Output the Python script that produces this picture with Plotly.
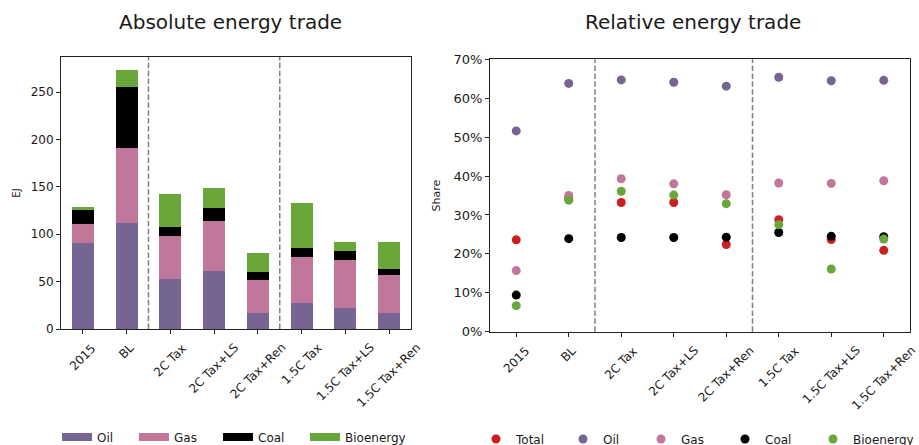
import plotly.graph_objects as go

# Scenarios shown on both panels
scenarios = ["2015", "BL", "2C Tax", "2C Tax+LS", "2C Tax+Ren",
             "1.5C Tax", "1.5C Tax+LS", "1.5C Tax+Ren"]
group_breaks = [1.5, 4.5]

# Absolute traded energy by carrier (EJ)
oil_ej = [90.7, 111.8, 53.1, 61.5, 17.2, 27.8, 22.2, 16.5]
gas_ej = [20.1, 79.5, 44.6, 52.8, 34.5, 48.1, 50.2, 40.8]
coal_ej = [15.4, 63.6, 10.2, 13.7, 8.4, 9.5, 9.9, 6.3]
bio_ej = [2.1, 18.0, 34.2, 20.4, 20.4, 47.2, 9.5, 28.2]

# Traded share of each carrier
total_share = [0.236, 0.343, 0.332, 0.332, 0.224, 0.288, 0.237, 0.209]
oil_share = [0.516, 0.638, 0.647, 0.641, 0.631, 0.654, 0.645, 0.646]
gas_share = [0.157, 0.350, 0.393, 0.380, 0.352, 0.382, 0.381, 0.388]
coal_share = [0.094, 0.239, 0.242, 0.242, 0.243, 0.255, 0.245, 0.244]
bio_share = [0.067, 0.338, 0.361, 0.351, 0.329, 0.275, 0.161, 0.238]

C_OIL = "#766492"
C_GAS = "#c0779b"
C_COAL = "#000000"
C_BIO = "#6aa73a"
C_TOTAL = "#cc2020"
FONT = "DejaVu Sans"
INK = "#1a1a1a"

W, H = 919, 445
fig = go.Figure()

legend_font = dict(family=FONT, size=12, color=INK)
legends = {}

# Stacked bars, each with its own legend entry placed along the bottom
bar_series = [("Oil", oil_ej, C_OIL, 57), ("Gas", gas_ej, C_GAS, 134),
              ("Coal", coal_ej, C_COAL, 218), ("Bioenergy", bio_ej, C_BIO, 305)]
k = 0
for name, vals, col, lx in bar_series:
    k += 1
    lg = "legend" if k == 1 else f"legend{k}"
    legends[lg] = dict(orientation="h", x=lx / W, y=1 - 437 / H, xanchor="left",
                       yanchor="middle", font=legend_font, bgcolor="rgba(0,0,0,0)")
    fig.add_trace(go.Bar(x=scenarios, y=vals, name=name, marker_color=col,
                         marker_line_width=0, width=0.5, xaxis="x", yaxis="y",
                         legendgroup=name, showlegend=False))
    # wide swatch for the bar legend
    fig.add_trace(go.Scatter(x=[None], y=[None], mode="lines", name=name,
                             line=dict(color=col, width=8), xaxis="x", yaxis="y",
                             legendgroup=name, legend=lg))

# Share markers
dot_series = [("Total", total_share, C_TOTAL, 476), ("Oil", oil_share, C_OIL, 563),
              ("Gas", gas_share, C_GAS, 641), ("Coal", coal_share, C_COAL, 725),
              ("Bioenergy", bio_share, C_BIO, 813)]
for name, vals, col, lx in dot_series:
    k += 1
    lg = f"legend{k}"
    legends[lg] = dict(orientation="h", x=lx / W, y=1 - 439 / H, xanchor="left",
                       yanchor="middle", font=legend_font, bgcolor="rgba(0,0,0,0)")
    fig.add_trace(go.Scatter(x=scenarios, y=vals, mode="markers", name=name,
                             marker=dict(color=col, size=9, line_width=0),
                             xaxis="x2", yaxis="y2", legend=lg))

axis_common = dict(showline=True, linecolor="#222", linewidth=1, mirror=True,
                   ticks="outside", ticklen=4, tickcolor="#222", showgrid=False,
                   zeroline=False, tickfont=dict(family=FONT, size=12, color=INK))

fig.update_layout(
    width=W, height=H, margin=dict(l=0, r=0, t=0, b=0, autoexpand=False),
    paper_bgcolor="white", plot_bgcolor="white", barmode="stack",
    font=dict(family=FONT, color=INK),
    xaxis=dict(domain=[61 / W, 411 / W], type="category", range=[-0.5, 7.5],
               showticklabels=False, anchor="y", **axis_common),
    yaxis=dict(domain=[1 - 329 / H, 1 - 57 / H], range=[0, 287], dtick=50,
               anchor="x", automargin=False,
               title=dict(text="EJ", font=dict(size=10, family=FONT), standoff=8),
               **axis_common),
    xaxis2=dict(domain=[490 / W, 910 / W], type="category", range=[-0.5, 7.5],
                showticklabels=False, anchor="y2", **axis_common),
    yaxis2=dict(domain=[1 - 331.7 / H, 1 - 59.3 / H], range=[0, 0.7], dtick=0.1,
                tickformat=".0%", anchor="x2", automargin=False,
                title=dict(text="Share", font=dict(size=11, family=FONT), standoff=10),
                **{**axis_common, "tickfont": dict(family=FONT, size=13, color=INK)}),
    **legends,
)

# Group separators
for xa, ya in [("x", "y"), ("x2", "y2")]:
    for b in group_breaks:
        fig.add_shape(type="line", xref=xa, yref=f"{ya} domain", x0=b, x1=b, y0=0, y1=1,
                      line=dict(color="#808080", width=1.5, dash="5.5px,2.4px"))

# Panel titles
for text, xc in [("Absolute energy trade", 230), ("Relative energy trade", 693)]:
    fig.add_annotation(text=text, x=xc / W, y=1 - 22 / H, xref="paper", yref="paper",
                       xanchor="center", yanchor="middle", showarrow=False,
                       font=dict(family=FONT, size=20, color=INK))

# Rotated category labels, centred under each tick
for xa, ytop in [("x", 338), ("x2", 341)]:
    for i, s in enumerate(scenarios):
        fig.add_annotation(text=s, x=i, xref=xa, y=1 - ytop / H, yref="paper",
                           textangle=-45, xanchor="center", yanchor="top",
                           showarrow=False, font=dict(family=FONT, size=12, color=INK))

fig.write_html("out.html")
